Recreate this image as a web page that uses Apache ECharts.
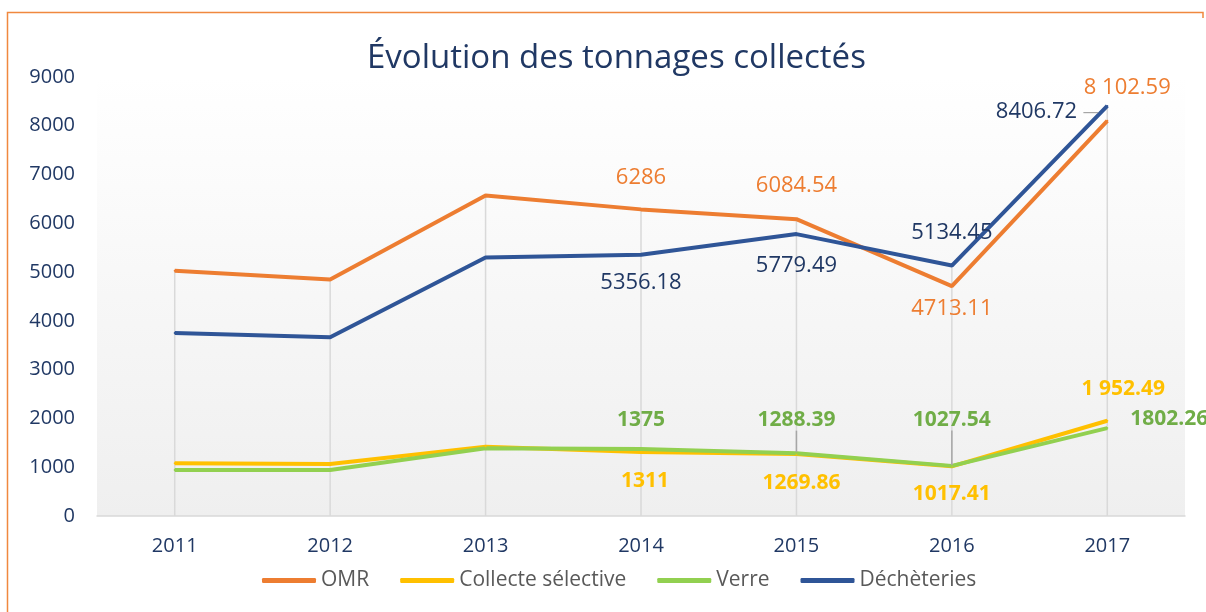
<!DOCTYPE html>
<html>
<head>
<meta charset="utf-8">
<script src="https://cdn.jsdelivr.net/npm/echarts@6/dist/echarts.min.js"></script>
<style>
  html, body { margin: 0; padding: 0; background: #fff; }
  #chart { width: 1206px; height: 612px; }
</style>
</head>
<body>
<div id="chart"></div>
<script>
// data
const years = ['2011', '2012', '2013', '2014', '2015', '2016', '2017']
const omr = [5030, 4850, 6570, 6286, 6084.54, 4713.11, 8102.59]
const collecte = [1080, 1065, 1420, 1311, 1269.86, 1017.41, 1952.49]
const verre = [945, 945, 1390, 1375, 1288.39, 1027.54, 1802.26]
const decheteries = [3750, 3665, 5300, 5356.18, 5779.49, 5134.45, 8406.72]

// data labels as printed (only some points carry one)
const omrLabels = [null, null, null, '6286', '6084.54', '4713.11', '8 102.59']
const collecteLabels = [null, null, null, '1311', '1269.86', '1017.41', '1 952.49']
const verreLabels = [null, null, null, '1375', '1288.39', '1027.54', '1802.26']
const dechLabels = [null, null, null, '5356.18', '5779.49', '5134.45', '8406.72 {g|—}']

const yTicks = { min: 0, max: 9000, interval: 1000 }

const FONT = '"Open Sans", "Noto Sans", sans-serif'
const NAVY = '#203864'

// label centre offsets from the point, [dx, dy]
const omrOffsets = [null, null, null, [0, -32], [0, -33], [0, 23], [20, -33]]
const dechOffsets = [null, null, null, [0, 28], [0, 32], [0, -33], [-60, 6]]
const collecteOffsets = [null, null, null, [4, 29], [5, 29], [0, 28], [16, -32]]
const verreOffsets = [null, null, null, [0, -29], [0, -33], [0, -46], [62, -9]]

function points(values, labels, offsets, color, bold, guides) {
  return values.map((v, i) => {
    if (!labels[i]) return v
    const item = {
      value: v,
      label: {
        show: true,
        formatter: labels[i],
        position: 'inside',
        offset: offsets[i],
        color: color,
        fontFamily: FONT,
        fontSize: bold ? 21 : 22,
        fontWeight: bold ? 'bold' : 'normal',
        rich: { g: { color: '#A6A6A6', fontFamily: FONT, fontSize: 16 } },
      },
    }
    if (guides && guides.includes(i)) {
      item.labelLine = { show: true, lineStyle: { color: '#A6A6A6', width: 1.5 } }
    }
    return item
  })
}

function lineSeries(name, color, data) {
  return {
    name,
    type: 'line',
    data,
    symbol: 'circle',
    symbolSize: 2,
    itemStyle: { color },
    lineStyle: { color, width: 4 },
    z: 3,
    animation: false,
  }
}

// drop lines go from the highest point of each year down to the axis
const dropTop = years.map((_, i) => Math.max(omr[i], collecte[i], verre[i], decheteries[i]))

const chart = echarts.init(document.getElementById('chart'))
chart.setOption({
  animation: false,
  backgroundColor: '#fff',
  title: {
    text: 'Évolution des tonnages collectés',
    left: 362,
    top: 37,
    textStyle: { color: NAVY, fontFamily: FONT, fontSize: 33, fontWeight: 'normal' },
  },
  graphic: [
    {
      type: 'polyline',
      shape: { points: [[7.5, 612], [7.5, 12.5], [1203, 12.5], [1203, 18]] },
      style: { stroke: '#F0883E', lineWidth: 1.5, fill: null },
      silent: true,
    },
  ],
  legend: {
    data: ['OMR', 'Collecte sélective', 'Verre', 'Déchèteries'],
    left: 257,
    top: 565,
    icon: 'roundRect',
    itemWidth: 54,
    itemHeight: 5,
    itemGap: 31,
    textStyle: { color: '#595959', fontFamily: FONT, fontSize: 21 },
  },
  grid: {
    left: 97,
    right: 21,
    top: 77,
    bottom: 96,
    show: true,
    borderWidth: 0,
    backgroundColor: new echarts.graphic.LinearGradient(0, 0, 0, 1, [
      { offset: 0, color: '#FFFFFF' },
      { offset: 1, color: '#EFEFEF' },
    ]),
  },
  xAxis: {
    type: 'category',
    data: years,
    boundaryGap: true,
    axisLine: { lineStyle: { color: '#D9D9D9', width: 1.5 } },
    axisTick: { show: false },
    splitLine: { show: false },
    axisLabel: { color: NAVY, fontFamily: FONT, fontSize: 20, margin: 20 },
  },
  yAxis: {
    type: 'value',
    min: yTicks.min,
    max: yTicks.max,
    interval: yTicks.interval,
    axisLine: { show: false },
    axisTick: { show: false },
    splitLine: { show: false },
    axisLabel: {
      color: NAVY,
      fontFamily: FONT,
      fontSize: 20,
      margin: 22,
      formatter: (v) => String(v),
    },
  },
  series: [
    {
      name: 'drop',
      type: 'bar',
      data: dropTop,
      barWidth: 1.5,
      itemStyle: { color: '#D9D9D9' },
      silent: true,
      z: 1,
    },
    lineSeries('OMR', '#ED7D31', points(omr, omrLabels, omrOffsets, '#ED7D31', false)),
    lineSeries('Collecte sélective', '#FFC000', points(collecte, collecteLabels, collecteOffsets, '#FFC000', true)),
    lineSeries('Verre', '#92D050', points(verre, verreLabels, verreOffsets, '#70AD47', true, [4, 5])),
    lineSeries('Déchèteries', '#2F5597', points(decheteries, dechLabels, dechOffsets, NAVY, false)),
  ],
})
</script>
</body>
</html>
